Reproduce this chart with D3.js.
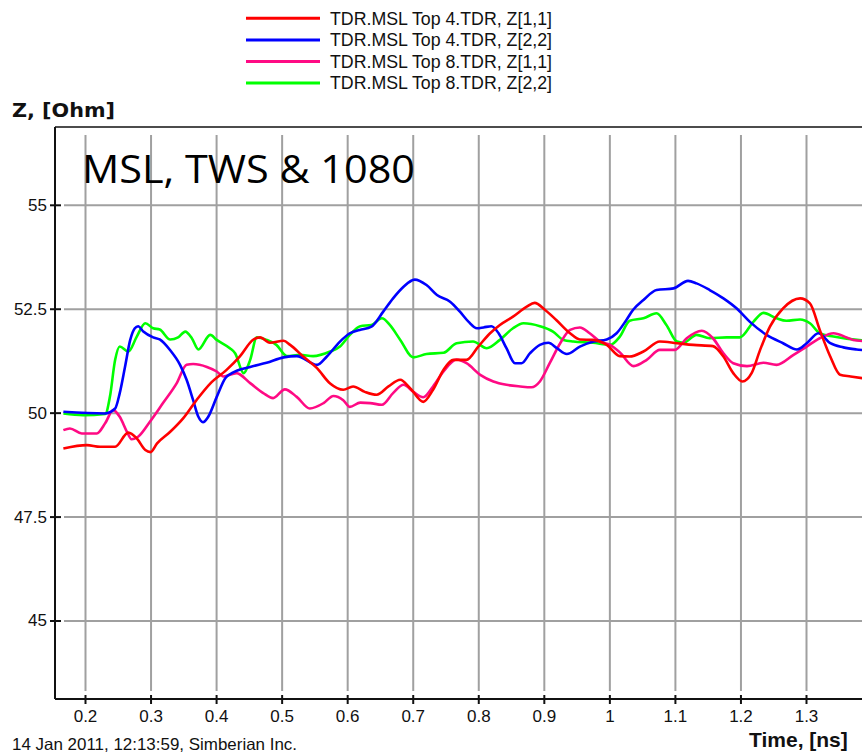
<!DOCTYPE html>
<html>
<head>
<meta charset="utf-8">
<script src="https://cdn.jsdelivr.net/npm/d3@7/dist/d3.min.js"></script>
<style>
  html, body { margin: 0; padding: 0; background: #ffffff; }
  svg { display: block; }
  text { font-family: "Liberation Sans", Arial, sans-serif; fill: #111; }
</style>
</head>
<body>
<svg id="chart" width="862" height="753"></svg>
<script>
// ---- data: TDR impedance profiles (time in ns, impedance in Ohm) ----
const seriesNames = [
  "TDR.MSL Top 4.TDR, Z[1,1]",
  "TDR.MSL Top 4.TDR, Z[2,2]",
  "TDR.MSL Top 8.TDR, Z[1,1]",
  "TDR.MSL Top 8.TDR, Z[2,2]"
];
const seriesColors = ["#ff0000", "#0000ff", "#ff0a84", "#00ff00"];

const top4z11Time = [0.167,0.203,0.223,0.246,0.266,0.279,0.292,0.300,0.310,0.330,0.350,0.370,0.391,0.416,0.436,0.457,0.467,0.482,0.503,0.513,0.533,0.554,0.574,0.594,0.609,0.627,0.645,0.663,0.681,0.696,0.716,0.731,0.747,0.762,0.782,0.800,0.818,0.833,0.853,0.874,0.886,0.902,0.919,0.940,0.955,0.975,0.996,1.016,1.031,1.052,1.077,1.103,1.128,1.158,1.174,1.189,1.203,1.217,1.230,1.245,1.265,1.291,1.306,1.321,1.337,1.352,1.368,1.390];
const top4z11Ohm  = [49.14,49.22,49.18,49.18,49.52,49.38,49.10,49.05,49.26,49.54,49.87,50.30,50.70,51.03,51.35,51.76,51.81,51.68,51.73,51.63,51.35,51.07,50.70,50.55,50.63,50.50,50.43,50.63,50.79,50.59,50.26,50.55,51.03,51.27,51.27,51.59,51.91,52.11,52.31,52.55,52.64,52.47,52.23,51.91,51.76,51.75,51.63,51.36,51.35,51.47,51.71,51.67,51.63,51.60,51.35,50.95,50.75,50.95,51.51,52.07,52.51,52.75,52.63,51.99,51.35,50.91,50.87,50.82];

const top4z22Time = [0.167,0.230,0.246,0.253,0.261,0.269,0.276,0.281,0.289,0.304,0.314,0.330,0.345,0.355,0.365,0.373,0.380,0.388,0.401,0.414,0.424,0.452,0.477,0.503,0.523,0.554,0.569,0.589,0.604,0.619,0.637,0.655,0.670,0.686,0.703,0.721,0.737,0.757,0.772,0.785,0.798,0.808,0.820,0.831,0.843,0.856,0.866,0.879,0.894,0.907,0.920,0.935,0.955,0.976,0.996,1.011,1.026,1.036,1.052,1.072,1.098,1.120,1.133,1.153,1.174,1.194,1.214,1.240,1.265,1.286,1.301,1.319,1.337,1.357,1.377,1.390];
const top4z22Ohm  = [50.02,49.98,50.10,50.47,51.10,51.75,52.03,52.08,51.95,51.81,51.76,51.50,51.15,50.79,50.30,49.90,49.77,49.90,50.38,50.83,50.95,51.10,51.20,51.33,51.36,51.15,51.35,51.71,51.91,51.99,52.07,52.43,52.75,53.03,53.20,53.07,52.83,52.67,52.43,52.19,52.03,52.05,52.08,51.91,51.55,51.19,51.19,51.43,51.63,51.68,51.55,51.41,51.59,51.71,51.76,51.91,52.23,52.47,52.71,52.95,52.99,53.17,53.11,52.95,52.75,52.51,52.19,51.87,51.67,51.52,51.67,51.91,51.67,51.57,51.52,51.50];

const top8z11Time = [0.167,0.177,0.195,0.218,0.231,0.243,0.253,0.264,0.271,0.281,0.299,0.319,0.340,0.355,0.365,0.386,0.401,0.411,0.431,0.452,0.472,0.487,0.505,0.523,0.543,0.564,0.579,0.594,0.604,0.620,0.635,0.653,0.670,0.686,0.701,0.716,0.731,0.747,0.767,0.782,0.803,0.823,0.843,0.864,0.881,0.894,0.909,0.925,0.940,0.955,0.970,0.986,1.001,1.016,1.037,1.057,1.077,1.100,1.118,1.141,1.158,1.174,1.189,1.210,1.235,1.255,1.281,1.301,1.321,1.342,1.362,1.372,1.390];
const top8z11Ohm  = [49.58,49.62,49.50,49.50,49.75,50.06,49.90,49.54,49.36,49.42,49.78,50.23,50.71,51.15,51.17,51.10,50.99,50.87,50.95,50.71,50.47,50.35,50.56,50.38,50.10,50.23,50.40,50.30,50.14,50.24,50.23,50.19,50.47,50.67,50.50,50.37,50.63,50.99,51.28,51.19,50.91,50.75,50.67,50.63,50.61,50.75,51.19,51.67,51.99,52.05,51.91,51.71,51.63,51.45,51.12,51.27,51.51,51.51,51.79,51.97,51.79,51.43,51.19,51.12,51.20,51.15,51.39,51.59,51.79,51.91,51.81,51.75,51.72];

const top8z22Time = [0.167,0.197,0.231,0.238,0.246,0.253,0.266,0.279,0.292,0.304,0.314,0.330,0.342,0.353,0.363,0.373,0.391,0.401,0.421,0.429,0.442,0.452,0.462,0.477,0.492,0.508,0.528,0.548,0.574,0.589,0.604,0.620,0.637,0.653,0.665,0.681,0.701,0.721,0.747,0.767,0.792,0.813,0.833,0.853,0.869,0.894,0.914,0.930,0.945,0.975,1.001,1.016,1.031,1.052,1.072,1.087,1.103,1.113,1.133,1.153,1.179,1.199,1.220,1.235,1.255,1.270,1.291,1.306,1.321,1.342,1.378,1.390];
const top8z22Ohm  = [49.98,49.94,49.97,50.38,51.27,51.59,51.47,51.83,52.15,52.03,52.00,51.76,51.81,51.95,51.79,51.52,51.87,51.75,51.55,51.43,50.95,51.27,51.81,51.75,51.63,51.36,51.39,51.36,51.47,51.59,51.87,52.08,52.11,52.27,52.11,51.75,51.33,51.41,51.44,51.67,51.71,51.55,51.75,52.03,52.15,52.08,51.95,51.75,51.71,51.68,51.63,51.83,52.21,52.27,52.39,52.11,51.71,51.68,51.87,51.79,51.81,51.81,52.19,52.40,52.27,52.21,52.24,52.15,51.91,51.83,51.75,51.74];

const xTicks = [0.2,0.3,0.4,0.5,0.6,0.7,0.8,0.9,1.0,1.1,1.2,1.3];
const yTicks = [45,47.5,50,52.5,55];

const titleText = "MSL, TWS & 1080";
const yAxisLabel = "Z, [Ohm]";
const xAxisLabel = "Time, [ns]";
const stampText = "14 Jan 2011, 12:13:59, Simberian Inc.";

// ---- layout ----
const svg = d3.select("#chart");
const plot = { left: 55, top: 127, right: 862, bottom: 699 };

const x = d3.scaleLinear().domain([0.2, 1.3]).range([85, 806]);
const y = d3.scaleLinear().domain([45, 55]).range([620.5, 204.8]);

const series = [
  { name: seriesNames[0], color: seriesColors[0], t: top4z11Time, z: top4z11Ohm },
  { name: seriesNames[1], color: seriesColors[1], t: top4z22Time, z: top4z22Ohm },
  { name: seriesNames[2], color: seriesColors[2], t: top8z11Time, z: top8z11Ohm },
  { name: seriesNames[3], color: seriesColors[3], t: top8z22Time, z: top8z22Ohm }
];

svg.append("defs").append("clipPath").attr("id", "plotClip")
  .append("rect")
  .attr("x", plot.left + 1).attr("y", plot.top + 1)
  .attr("width", plot.right - plot.left).attr("height", plot.bottom - plot.top - 2);

// ---- grid ----
const grid = svg.append("g").attr("class", "grid");
grid.append("g")
  .attr("transform", `translate(0,${plot.bottom - 8})`)
  .call(d3.axisBottom(x).tickValues(xTicks).tickSize(-(plot.bottom - plot.top - 16)).tickFormat(""))
  .call(g => g.select(".domain").remove())
  .call(g => g.selectAll("line").attr("stroke", "#a0a0a0").attr("stroke-width", 2));
grid.append("g")
  .attr("transform", `translate(${plot.left + 9},0)`)
  .call(d3.axisRight(y).tickValues(yTicks).tickSize(plot.right - plot.left).tickFormat(""))
  .call(g => g.select(".domain").remove())
  .call(g => g.selectAll("line").attr("stroke", "#a0a0a0").attr("stroke-width", 2));

// ---- curves ----
const line = d3.line()
  .x(d => x(d[0]))
  .y(d => y(d[1]))
  .curve(d3.curveMonotoneX);

const drawOrder = [3, 2, 1, 0];
const curves = svg.append("g").attr("clip-path", "url(#plotClip)");
drawOrder.forEach(i => {
  const s = series[i];
  curves.append("path")
    .datum(d3.zip(s.t, s.z))
    .attr("fill", "none")
    .attr("stroke", s.color)
    .attr("stroke-width", 2.6)
    .attr("stroke-linejoin", "round")
    .attr("d", line);
});

// ---- frame and axes ----
svg.append("line")
  .attr("x1", plot.left).attr("x2", plot.right)
  .attr("y1", plot.top).attr("y2", plot.top)
  .attr("stroke", "#111").attr("stroke-width", 1.6);

const yAxis = svg.append("g")
  .attr("transform", `translate(${plot.left},0)`)
  .call(d3.axisLeft(y).tickValues(yTicks).tickSizeInner(5).tickSizeOuter(0).tickPadding(3).tickFormat(d3.format("")));
yAxis.select(".domain").attr("d", `M0,${plot.top}V${plot.bottom}`).attr("stroke", "#111").attr("stroke-width", 2);
yAxis.selectAll(".tick line").attr("x1", 6).attr("stroke", "#111").attr("stroke-width", 2);
yAxis.selectAll(".tick text")
  .attr("x", -8)
  .style("font-family", "'Liberation Sans', Arial, sans-serif")
  .style("font-size", "17px").attr("fill", "#111");

const xAxis = svg.append("g")
  .attr("transform", `translate(0,${plot.bottom})`)
  .call(d3.axisBottom(x).tickValues(xTicks).tickSizeInner(5).tickSizeOuter(0).tickPadding(6)
    .tickFormat(d => String(+d.toFixed(1))));
xAxis.select(".domain").attr("d", `M${plot.left},0H${plot.right}`).attr("stroke", "#111").attr("stroke-width", 2);
xAxis.selectAll(".tick line").attr("y1", -4).attr("stroke", "#111").attr("stroke-width", 2);
xAxis.selectAll(".tick text")
  .style("font-family", "'Liberation Sans', Arial, sans-serif")
  .style("font-size", "17px").attr("fill", "#111");

// ---- labels ----
svg.append("text")
  .attr("x", 12).attr("y", 117)
  .attr("textLength", 103).attr("lengthAdjust", "spacingAndGlyphs")
  .style("font-family", "'DejaVu Sans', 'Liberation Sans', sans-serif")
  .style("font-size", "20px").style("font-weight", "bold")
  .text(yAxisLabel);

svg.append("text")
  .attr("x", 749).attr("y", 747)
  .style("font-size", "21px").style("font-weight", "bold")
  .text(xAxisLabel);

svg.append("text")
  .attr("x", 12).attr("y", 750)
  .attr("textLength", 285).attr("lengthAdjust", "spacingAndGlyphs")
  .style("font-size", "16.5px")
  .text(stampText);

svg.append("text")
  .attr("x", 82).attr("y", 183)
  .attr("textLength", 333).attr("lengthAdjust", "spacingAndGlyphs")
  .style("font-family", "'Open Sans', 'DejaVu Sans', sans-serif")
  .style("font-size", "39px")
  .style("fill", "#000")
  .text(titleText);

// ---- legend ----
const legendRows = [18.3, 40, 61.5, 83];
const legend = svg.append("g");
series.forEach((s, i) => {
  const row = legend.append("g").attr("transform", `translate(0,${legendRows[i]})`);
  row.append("line")
    .attr("x1", 246).attr("x2", 320)
    .attr("stroke", s.color).attr("stroke-width", 3);
  row.append("text")
    .attr("x", 330).attr("y", 6.3)
    .attr("textLength", 222).attr("lengthAdjust", "spacingAndGlyphs")
    .style("font-size", "17.5px")
    .text(s.name);
});
</script>
</body>
</html>
